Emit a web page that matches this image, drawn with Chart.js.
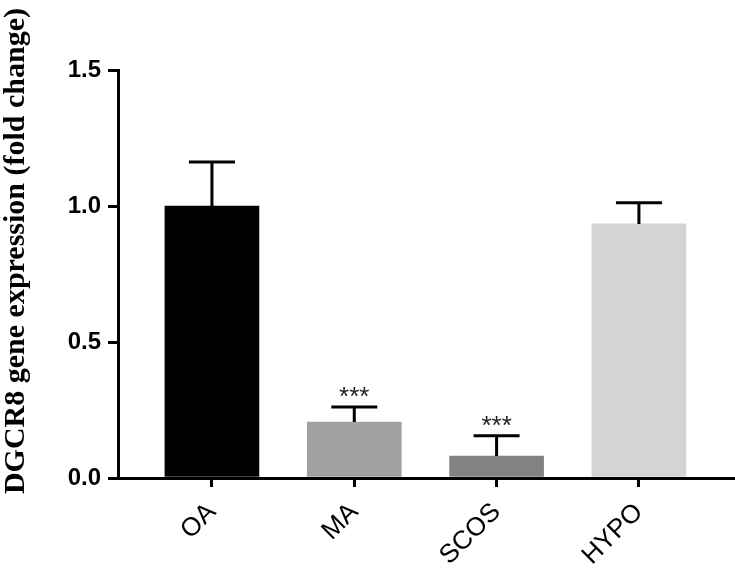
<!DOCTYPE html>
<html lang="en">
<head>
  <meta charset="UTF-8">
  <title>DGCR8 gene expression</title>
  <script src="https://cdn.jsdelivr.net/npm/chart.js"></script>
  <style>
    html, body { margin: 0; padding: 0; background: #fff; }
    #wrap { width: 735px; height: 580px; }
  </style>
</head>
<body>

  <div id="wrap">
    <canvas id="grafico" width="735" height="580"></canvas>
  </div>

  <script>
    // Datos
    const groups = ['OA', 'MA', 'SCOS', 'HYPO'];
    const meanFold = [1.0, 0.206, 0.081, 0.934];
    const semFold = [0.162, 0.055, 0.074, 0.078];
    const signif = ['', '***', '***', ''];
    const barColors = ['#000000', '#a1a1a3', '#828282', '#d4d4d4'];
    const yTicks = [0, 0.5, 1.0, 1.5];
    const yTitle = 'DGCR8 gene expression (fold change)';

    // Barras de error + asteriscos
    const errorBars = {
      id: 'errorBars',
      afterDatasetsDraw(chart) {
        const ctx = chart.ctx;
        const meta = chart.getDatasetMeta(0);
        const y = chart.scales.y;
        ctx.save();
        ctx.strokeStyle = '#000';
        ctx.lineWidth = 3;
        meta.data.forEach((bar, i) => {
          const yTop = y.getPixelForValue(meanFold[i] + semFold[i]);
          const yBar = y.getPixelForValue(meanFold[i]);
          ctx.beginPath();
          ctx.moveTo(bar.x, yBar);
          ctx.lineTo(bar.x, yTop);
          ctx.moveTo(bar.x - 23, yTop);
          ctx.lineTo(bar.x + 23, yTop);
          ctx.stroke();
          if (signif[i]) {
            ctx.fillStyle = '#222';
            ctx.font = '26px "Liberation Sans", Arial, sans-serif';
            ctx.textAlign = 'center';
            ctx.textBaseline = 'alphabetic';
            ctx.fillText(signif[i], bar.x, yTop - 2);
          }
        });
        ctx.restore();
      }
    };

    // Título del eje Y
    const axisTitle = {
      id: 'axisTitle',
      afterDraw(chart) {
        const ctx = chart.ctx;
        ctx.save();
        ctx.translate(16, 251);
        ctx.rotate(-Math.PI / 2);
        ctx.fillStyle = '#000';
        ctx.font = 'bold 30px "Liberation Serif", "Times New Roman", serif';
        ctx.textAlign = 'center';
        ctx.textBaseline = 'middle';
        ctx.fillText(yTitle, 0, 0);
        ctx.restore();
      }
    };

    const ctx = document.getElementById('grafico').getContext('2d');
    const chart = new Chart(ctx, {
      type: 'bar',
      data: {
        datasets: [{
          data: groups.map((g, i) => ({ x: i, y: meanFold[i] })),
          backgroundColor: barColors,
          borderWidth: 0,
          barThickness: 94
        }]
      },
      plugins: [errorBars, axisTitle],
      options: {
        responsive: false,
        animation: false,
        layout: { padding: { top: 70, right: 0, left: 0, bottom: 0 } },
        plugins: {
          legend: { display: false },
          tooltip: { enabled: false }
        },
        scales: {
          x: {
            type: 'linear',
            offset: false,
            min: -0.66,
            max: 3.675,
            afterBuildTicks(scale) {
              scale.ticks = groups.map((g, i) => ({ value: i }));
            },
            afterFit(scale) { scale.height = 102; },
            border: { display: true, color: '#000', width: 3 },
            grid: {
              offset: false,
              drawOnChartArea: false,
              drawTicks: true,
              tickLength: 9,
              color: '#000',
              lineWidth: 3
            },
            ticks: {
              autoSkip: false,
              minRotation: 45,
              maxRotation: 45,
              padding: 10,
              color: '#000',
              font: { family: '"Liberation Sans", Arial, sans-serif', size: 26 },
              callback: (v) => groups[v]
            }
          },
          y: {
            min: 0,
            max: 1.5,
            afterBuildTicks(scale) {
              scale.ticks = yTicks.map(v => ({ value: v }));
            },
            afterFit(scale) { scale.width = 118; },
            border: { display: true, color: '#000', width: 3 },
            grid: {
              drawOnChartArea: false,
              drawTicks: true,
              tickLength: 10,
              color: '#000',
              lineWidth: 3
            },
            ticks: {
              padding: 7,
              color: '#000',
              font: { family: '"Liberation Sans", Arial, sans-serif', size: 24, weight: 'bold' },
              callback: (v) => v.toFixed(1)
            }
          }
        }
      }
    });
  </script>
</body>
</html>
